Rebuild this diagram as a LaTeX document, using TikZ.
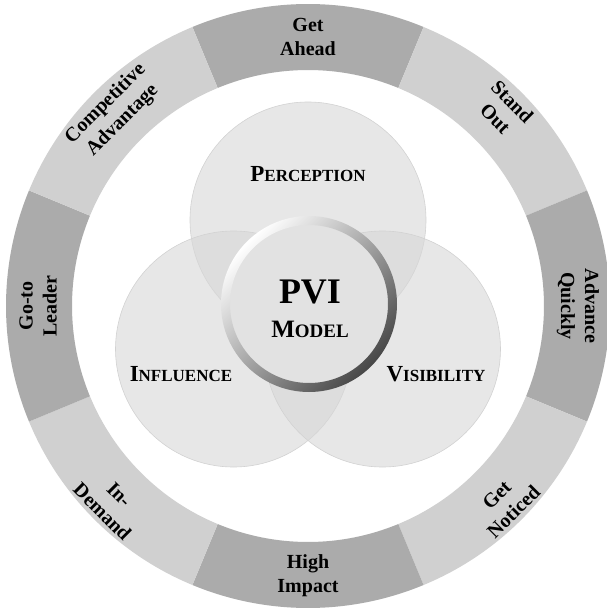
\documentclass[tikz,border=0pt]{standalone}
\usepackage{fontspec}
\setmainfont{Liberation Serif}
\usepackage{tikz}
\usetikzlibrary{positioning}

\definecolor{segdark}{HTML}{ABABAB}
\definecolor{seglight}{HTML}{D0D0D0}
\definecolor{ballfill}{HTML}{D7D7D7}
\definecolor{balledge}{HTML}{D2D2D2}
\definecolor{hubfill}{HTML}{E2E2E2}

\newcommand{\fakesc}[4]{{\fontsize{#1}{#1}\selectfont #3}{\fontsize{#2}{#2}\selectfont #4}}

\tikzset{
  ringtext/.style={font=\bfseries\fontsize{20}{24}\selectfont, align=center, inner sep=0pt},
  ball/.style={fill=ballfill, fill opacity=0.6, draw=balledge, line width=0.6pt},
  balltext/.style={font=\bfseries, inner sep=0pt}
}

\begin{document}
\begin{tikzpicture}[x=1pt,y=1pt]
		
		\useasboundingbox (-308,-307) rectangle (299,306);
		
		% outer ring
		\foreach \a/\c in {90/segdark,45/seglight,0/segdark,-45/seglight,-90/segdark,-135/seglight,180/segdark,135/seglight}
		\fill[\c] (\a-22.5:236pt) arc[start angle=\a-22.5, end angle=\a+22.5, radius=236pt]
		-- (\a+22.5:302pt) arc[start angle=\a+22.5, end angle=\a-22.5, radius=302pt] -- cycle;
		
		\node[ringtext]             (ahead)   at (90:269)   {Get\\Ahead};
		\node[ringtext, rotate=-45] (standout) at (45:277)  {Stand\\Out};
		\node[ringtext, rotate=-90] (advance) at (0:270)    {Advance\\Quickly};
		\node[ringtext, rotate=45]  (noticed) at (-45:279)  {Get\\Noticed};
		\node[ringtext]             (impact)  at (-90:270)  {High\\Impact};
		\node[ringtext, rotate=-45] (demand)  at (-135:279) {In-\\Demand};
		\node[ringtext, rotate=90]  (leader)  at (180:270)  {Go-to\\Leader};
		\node[ringtext, rotate=45]  (compet)  at (135:274)  {Competitive\\Advantage};
		
		% three circles
		\draw[ball] (90:86)  circle[radius=118pt];
		\draw[ball] (210:86) circle[radius=118pt];
		\draw[ball] (330:86) circle[radius=118pt];
		
		\node[balltext] (perception) at (0,132)    {\fakesc{23}{17}{P}{ERCEPTION}};
		\node[balltext] (influence)  at (-127,-68) {\fakesc{23}{17}{I}{NFLUENCE}};
		\node[balltext] (visibility) at (128,-68)  {\fakesc{23}{17}{V}{ISIBILITY}};
		
		% hub
		\fill[hubfill] (1,2) circle[radius=80pt];
		\shade[top color=white, bottom color=black!72, shading angle=45, even odd rule]
		(1,2) circle[radius=88pt] (1,2) circle[radius=79pt];
		
		\node[font=\bfseries\fontsize{36}{36}\selectfont, inner sep=0pt] (pvi) at (2,14) {PVI};
		\node[balltext, below=17pt of pvi] (model) {\fakesc{25}{19}{M}{ODEL}};
	\end{tikzpicture}
\end{document}
